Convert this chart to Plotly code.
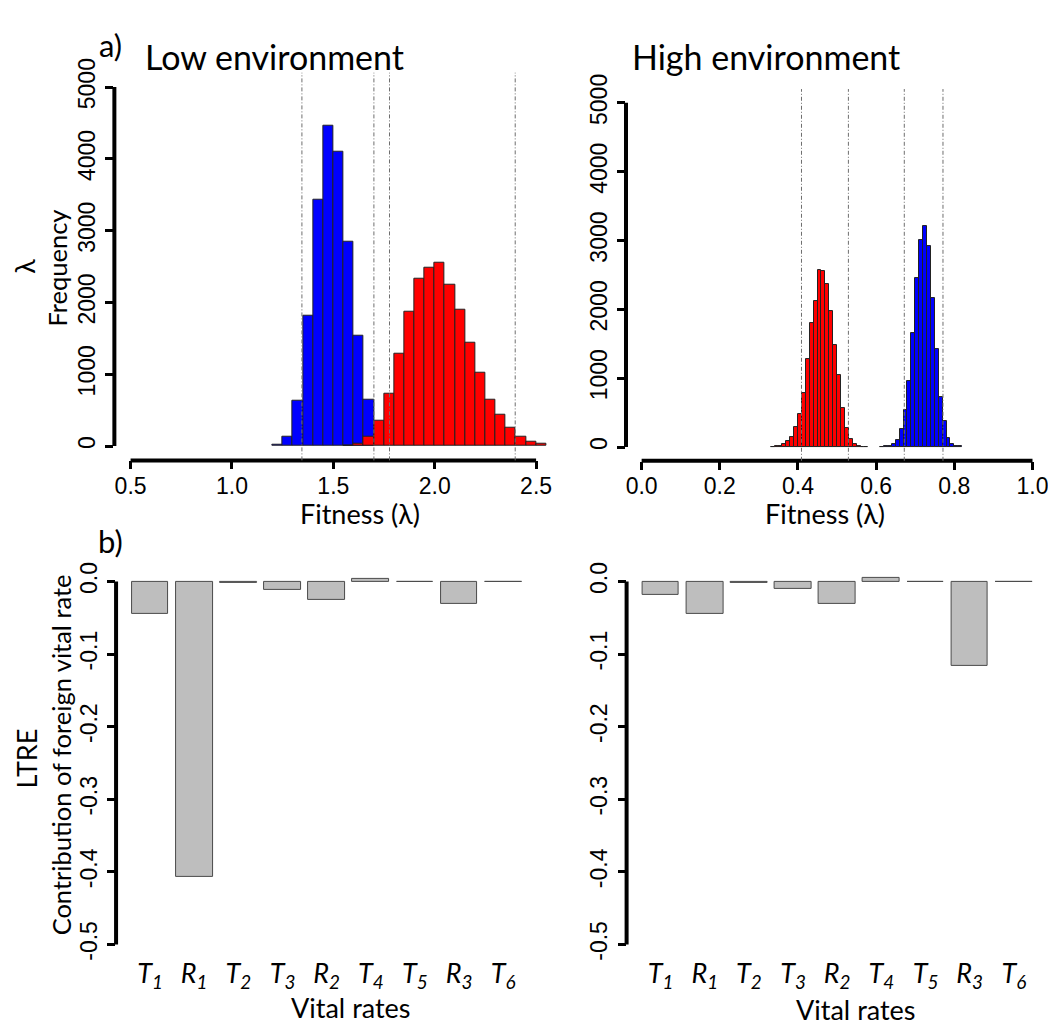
import numpy as np
import plotly.graph_objects as go

W, H = 1048, 1026

# ---- a) fitness distributions -------------------------------------------
# Low environment: counts per 0.05-wide bin
low_bin = 0.05
low_blue_start = 1.20
low_blue_counts = [23, 128, 635, 1813, 3425, 4466, 4105, 2849, 1539, 648]
low_red_start = 1.55
low_red_counts = [8, 32, 132, 352, 731, 1279, 1875, 2333, 2479, 2550,
                  2251, 1892, 1433, 1018, 642, 431, 249, 128, 59, 37]
low_quantiles = [1.345, 1.700, 1.777, 2.397]

# High environment: counts per 0.01-wide bin
high_bin = 0.01
high_red_start = 0.33
high_red_counts = [5, 10, 19, 38, 81, 148, 290, 481, 790, 1276, 1800, 2124,
                   2576, 2552, 2371, 1981, 1476, 1052, 571, 276, 119, 48, 14, 5, 2]
high_blue_start = 0.61
high_blue_counts = [5, 10, 19, 38, 100, 267, 533, 952, 1657, 2448, 3005,
                    3210, 2919, 2157, 1429, 724, 381, 133, 48, 19, 8]
high_quantiles = [0.409, 0.529, 0.672, 0.771]

freq_ticks = [0, 1000, 2000, 3000, 4000, 5000]
low_x_ticks = [0.5, 1.0, 1.5, 2.0, 2.5]
high_x_ticks = [0.0, 0.2, 0.4, 0.6, 0.8, 1.0]

# ---- b) LTRE contributions -----------------------------------------------
vital_rates = ["T1", "R1", "T2", "T3", "R2", "T4", "T5", "R3", "T6"]
ltre_low = [-0.0443, -0.4074, -0.0014, -0.0113, -0.0248, 0.0036, -0.0005, -0.0312, -0.0001]
ltre_high = [-0.0185, -0.0443, -0.0014, -0.0104, -0.0316, 0.0054, -0.0005, -0.1160, -0.0001]
ltre_ticks = [0.0, -0.1, -0.2, -0.3, -0.4, -0.5]

BLUE, RED, GREY = "#0000FF", "#FF0000", "#BEBEBE"
TICK_FONT = dict(family="Liberation Sans, Arial, sans-serif", size=23, color="black")
TEXT_FONT = "Lato, Open Sans, sans-serif"


def px_x(p):
    return p / W


def px_y(p):
    return 1 - p / H


def bin_centers(start, width, n):
    return start + width * (np.arange(n) + 0.5)


fig = go.Figure()

# histogram traces (blue first, red drawn over it)
hist_specs = [
    ("x", "y", low_blue_start, low_bin, low_blue_counts, BLUE),
    ("x", "y", low_red_start, low_bin, low_red_counts, RED),
    ("x2", "y2", high_red_start, high_bin, high_red_counts, RED),
    ("x2", "y2", high_blue_start, high_bin, high_blue_counts, BLUE),
]
for xa, ya, start, width, counts, col in hist_specs:
    fig.add_trace(go.Bar(
        x=bin_centers(start, width, len(counts)), y=counts, width=width,
        marker=dict(color=col, line=dict(color="#222222", width=1)),
        xaxis=xa, yaxis=ya, showlegend=False, hoverinfo="x+y"))

bar_pos = [0.7 + 1.2 * i for i in range(len(vital_rates))]
for xa, ya, vals in [("x3", "y3", ltre_low), ("x4", "y4", ltre_high)]:
    fig.add_trace(go.Bar(
        x=bar_pos, y=vals, width=1.0,
        marker=dict(color=GREY, line=dict(color="#4a4a4a", width=1)),
        xaxis=xa, yaxis=ya, showlegend=False))

rate_labels = ["<i>%s<sub>%s</sub></i>" % (r[0], r[1]) for r in vital_rates]

common = dict(showgrid=False, zeroline=False, showline=False)
num_axis = dict(common, ticks="outside", ticklen=8, tickwidth=3, tickcolor="black",
                tickfont=TICK_FONT, ticklabeloverflow="allow")
rate_axis = dict(common, ticks="", tickfont=dict(family=TEXT_FONT, size=27, color="black"),
                 ticklabelstandoff=-4)
ltre_text = ["0.0" if v == 0 else "%.1f" % v for v in ltre_ticks]

fig.update_layout(
    width=W, height=H, margin=dict(l=0, r=0, t=0, b=0),
    paper_bgcolor="white", plot_bgcolor="white", barmode="overlay", bargap=0,
    # top-left
    xaxis=dict(num_axis, domain=[px_x(114.7), px_x(553.9)], range=[0.42, 2.58],
               tickvals=low_x_ticks, ticktext=["%.1f" % v for v in low_x_ticks],
               anchor="y", ticklabelstandoff=-3),
    yaxis=dict(num_axis, domain=[px_y(452.9), px_y(58.7)], range=[-200, 5200],
               tickvals=freq_ticks, ticktext=[str(v) for v in freq_ticks],
               tickangle=-90, anchor="x", ticklabelstandoff=1),
    # top-right
    xaxis2=dict(num_axis, domain=[px_x(627.8), 1.0], range=[-0.04, 1.032],
                tickvals=high_x_ticks, ticktext=["%.1f" % v for v in high_x_ticks],
                anchor="y2", ticklabelstandoff=-3),
    yaxis2=dict(num_axis, domain=[px_y(453.3), px_y(75.3)], range=[-200, 5200],
                tickvals=freq_ticks, ticktext=[str(v) for v in freq_ticks],
                tickangle=-90, anchor="x2", ticklabelstandoff=1),
    # bottom-left
    xaxis3=dict(rate_axis, domain=[px_x(116.4), px_x(538.8)], range=[-0.224, 11.224],
                tickvals=bar_pos, ticktext=rate_labels, anchor="y3"),
    yaxis3=dict(num_axis, domain=[px_y(959.8), px_y(561.2)], range=[-0.52, 0.02],
                tickvals=ltre_ticks, ticktext=ltre_text,
                tickangle=-90, anchor="x3", ticklabelstandoff=1),
    # bottom-right
    xaxis4=dict(rate_axis, domain=[px_x(628.4), 1.0], range=[-0.224, 11.147],
                tickvals=bar_pos, ticktext=rate_labels, anchor="y4"),
    yaxis4=dict(num_axis, domain=[px_y(959.8), px_y(561.2)], range=[-0.52, 0.02],
                tickvals=ltre_ticks, ticktext=ltre_text,
                tickangle=-90, anchor="x4", ticklabelstandoff=1),
)

shapes = []
AX = dict(color="black", width=4)
# axis lines spanning first to last tick
for xa, ya, lo, hi in [("x", "y", 0.5, 2.5), ("x2", "y2", 0.0, 1.0)]:
    shapes.append(dict(type="line", xref=xa, yref=ya + " domain", x0=lo, x1=hi, y0=0, y1=0, line=AX))
    shapes.append(dict(type="line", xref=xa + " domain", yref=ya, x0=0, x1=0, y0=0, y1=5000, line=AX))
for xa, ya in [("x3", "y3"), ("x4", "y4")]:
    shapes.append(dict(type="line", xref=xa + " domain", yref=ya, x0=0, x1=0, y0=-0.5, y1=0.0, line=AX))
# 95% interval lines
DASH = dict(color="#6e6e6e", width=1, dash="4px,2px,1px,2px")
for xa, ya, qs in [("x", "y", low_quantiles), ("x2", "y2", high_quantiles)]:
    for q in qs:
        shapes.append(dict(type="line", xref=xa, yref=ya + " domain", x0=q, x1=q, y0=0, y1=1, line=DASH))
fig.update_layout(shapes=shapes)


def label(text, x, y, size, angle=0):
    fig.add_annotation(text=text, x=px_x(x), y=px_y(y), xref="paper", yref="paper",
                       showarrow=False, textangle=angle, xanchor="center", yanchor="middle",
                       font=dict(family=TEXT_FONT, size=size, color="black"))


label("a)", 111, 31, 31)
label("Low environment", 275, 42, 34)
label("High environment", 768, 42, 34)
label("Frequency", 57, 257, 25.5, -90)
label("λ", 25, 255, 27, -90)
label("Fitness (λ)", 361, 507, 27)
label("Fitness (λ)", 827, 507, 27)
label("b)", 111, 535, 31)
label("Contribution of foreign vital rate", 61, 752, 25.5, -90)
label("LTRE", 27, 756, 27, -90)
label("Vital rates", 352, 1009, 27)
label("Vital rates", 858, 1011, 27)

fig.write_html("out.html")
